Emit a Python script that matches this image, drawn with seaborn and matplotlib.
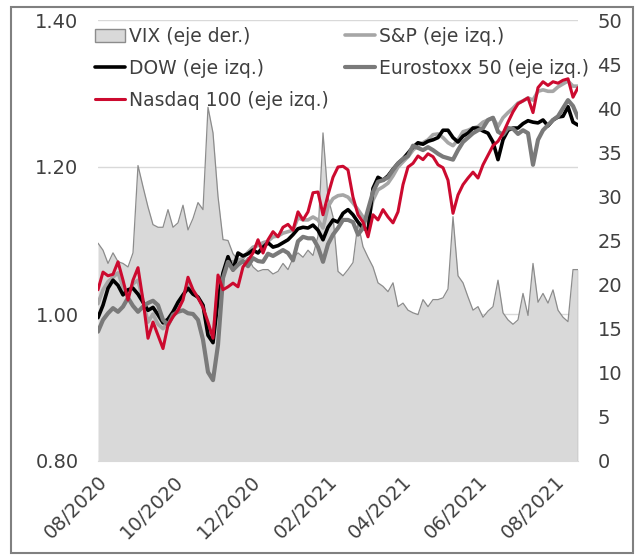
import pandas as pd
import matplotlib.pyplot as plt
import matplotlib.dates as mdates
from matplotlib.patches import Patch, Rectangle
import seaborn as sns

# Fechas (cada 4 días, 01/08/2020 - 20/08/2021)
dates = pd.date_range("2020-08-01", periods=97, freq="4D")

vix = [24.7, 23.9, 22.4, 23.6, 22.6, 22.4, 22.0, 23.6, 33.5, 31.1,
       28.8, 26.8, 26.5, 26.5, 28.5, 26.5, 27.0, 29.0, 26.2, 27.5,
       29.3, 28.5, 40.1, 37.2, 30.0, 25.1, 25.0, 23.5, 22.8, 22.4,
       23.1, 22.0, 21.5, 21.7, 21.7, 21.2, 21.5, 22.4, 21.7, 23.0,
       23.6, 23.1, 23.9, 23.3, 25.5, 37.2, 29.9, 27.7, 21.5, 21.0,
       21.7, 22.5, 27.0, 24.3, 23.1, 22.0, 20.2, 19.8, 19.2, 20.2,
       17.5, 17.9, 17.1, 16.8, 16.6, 18.3, 17.5, 18.3, 18.3, 18.5,
       19.5, 27.7, 21.0, 20.2, 18.6, 17.1, 17.5, 16.3, 17.0, 17.5,
       20.5, 16.8, 16.0, 15.5, 16.0, 19.0, 16.5, 22.4, 18.0, 19.0,
       17.9, 19.4, 17.1, 16.3, 15.8, 21.7, 21.7]

sp = [1.014, 1.033, 1.044, 1.050, 1.056, 1.037, 1.026, 1.041, 1.046, 1.018,
      0.989, 1.000, 0.986, 0.980, 0.989, 1.000, 1.011, 1.023, 1.042, 1.030,
      1.023, 1.011, 0.978, 0.967, 1.035, 1.053, 1.071, 1.071, 1.073, 1.076,
      1.084, 1.091, 1.093, 1.097, 1.099, 1.105, 1.106, 1.110, 1.112, 1.114,
      1.131, 1.128, 1.128, 1.132, 1.128, 1.117, 1.146, 1.157, 1.161, 1.162,
      1.159, 1.151, 1.142, 1.132, 1.128, 1.155, 1.169, 1.173, 1.178, 1.188,
      1.200, 1.207, 1.214, 1.223, 1.229, 1.233, 1.237, 1.244, 1.245, 1.240,
      1.233, 1.229, 1.237, 1.248, 1.250, 1.253, 1.255, 1.261, 1.264, 1.267,
      1.255, 1.267, 1.274, 1.280, 1.287, 1.290, 1.294, 1.291, 1.303, 1.305,
      1.303, 1.303, 1.309, 1.313, 1.317, 1.310, 1.310]

dow = [0.995, 1.012, 1.035, 1.046, 1.039, 1.026, 1.033, 1.035, 1.027, 1.016,
       1.005, 1.009, 0.999, 0.988, 0.993, 1.003, 1.016, 1.026, 1.035, 1.027,
       1.023, 1.012, 0.971, 0.961, 1.019, 1.056, 1.078, 1.060, 1.083, 1.079,
       1.082, 1.087, 1.083, 1.091, 1.097, 1.091, 1.093, 1.097, 1.101, 1.108,
       1.116, 1.118, 1.117, 1.121, 1.114, 1.101, 1.118, 1.128, 1.125, 1.137,
       1.142, 1.135, 1.125, 1.117, 1.114, 1.171, 1.186, 1.182, 1.188, 1.197,
       1.205, 1.211, 1.219, 1.227, 1.233, 1.231, 1.235, 1.237, 1.240, 1.250,
       1.250, 1.240, 1.234, 1.242, 1.246, 1.253, 1.253, 1.249, 1.246, 1.234,
       1.210, 1.237, 1.250, 1.253, 1.253, 1.259, 1.263, 1.261, 1.260, 1.264,
       1.256, 1.264, 1.268, 1.269, 1.282, 1.261, 1.257]

stoxx = [0.976, 0.992, 1.001, 1.008, 1.003, 1.010, 1.022, 1.011, 1.003, 1.010,
         1.015, 1.018, 1.012, 0.992, 0.985, 0.999, 1.003, 1.005, 1.001, 1.000,
         0.992, 0.965, 0.921, 0.910, 0.958, 1.049, 1.071, 1.060, 1.067, 1.072,
         1.065, 1.076, 1.072, 1.071, 1.082, 1.079, 1.083, 1.087, 1.083, 1.073,
         1.099, 1.105, 1.103, 1.103, 1.091, 1.071, 1.095, 1.108, 1.117, 1.128,
         1.128, 1.125, 1.108, 1.117, 1.142, 1.166, 1.180, 1.182, 1.186, 1.196,
         1.205, 1.211, 1.215, 1.229, 1.226, 1.223, 1.227, 1.223, 1.218, 1.214,
         1.212, 1.210, 1.223, 1.234, 1.240, 1.246, 1.250, 1.253, 1.264, 1.267,
         1.248, 1.244, 1.253, 1.252, 1.245, 1.250, 1.246, 1.203, 1.237, 1.250,
         1.257, 1.264, 1.269, 1.280, 1.291, 1.283, 1.267]

nasdaq = [1.033, 1.057, 1.052, 1.054, 1.071, 1.046, 1.019, 1.046, 1.063, 1.019,
          0.967, 0.989, 0.971, 0.953, 0.985, 0.996, 1.005, 1.019, 1.050, 1.033,
          1.022, 1.009, 0.989, 0.967, 1.053, 1.033, 1.037, 1.042, 1.037, 1.064,
          1.073, 1.083, 1.101, 1.083, 1.101, 1.112, 1.105, 1.118, 1.122, 1.114,
          1.139, 1.128, 1.139, 1.165, 1.166, 1.135, 1.162, 1.186, 1.200, 1.201,
          1.196, 1.159, 1.135, 1.125, 1.105, 1.135, 1.128, 1.142, 1.132, 1.124,
          1.139, 1.176, 1.200, 1.205, 1.215, 1.210, 1.218, 1.214, 1.203, 1.199,
          1.182, 1.137, 1.162, 1.176, 1.185, 1.193, 1.185, 1.203, 1.216, 1.229,
          1.235, 1.246, 1.261, 1.275, 1.286, 1.290, 1.294, 1.274, 1.308, 1.316,
          1.311, 1.316, 1.314, 1.318, 1.320, 1.295, 1.308]

tick_dates = pd.to_datetime(["2020-08-01", "2020-10-01", "2020-12-01", "2021-02-01",
                             "2021-04-01", "2021-06-01", "2021-08-01"])
left_ticks = [0.80, 1.00, 1.20, 1.40]
right_ticks = list(range(0, 55, 5))

sns.set_style("white")
plt.rcParams["font.family"] = ["DejaVu Sans"]
txt = "#404040"

fig = plt.figure(figsize=(6.39, 5.57), dpi=100)
ax = fig.add_axes([98 / 639, 96 / 557, 480 / 639, 441 / 557])
ax_v = ax.twinx()
ax.set_zorder(ax_v.get_zorder() + 1)
ax.patch.set_visible(False)

# VIX (eje derecho), área
for v in left_ticks:
    ax_v.axhline((v - 0.8) / 0.6 * 50, color="#d9d9d9", lw=1, zorder=0)
ax_v.fill_between(dates, vix, 0, color="#d9d9d9", lw=0, zorder=1)
sns.lineplot(x=dates, y=vix, ax=ax_v, color="#8c8c8c", lw=0.9, zorder=2)
ax_v.vlines(dates[-1], 0, vix[-1], color="#8c8c8c", lw=0.9)

# índices (eje izquierdo)
sns.lineplot(x=dates, y=sp, ax=ax, color="#a6a6a6", lw=2.6, label="S&P (eje izq.)")
sns.lineplot(x=dates, y=dow, ax=ax, color="black", lw=2.6, label="DOW (eje izq.)")
sns.lineplot(x=dates, y=stoxx, ax=ax, color="#7a7a7a", lw=3.0, label="Eurostoxx 50 (eje izq.)")
sns.lineplot(x=dates, y=nasdaq, ax=ax, color="#cc0a2f", lw=2.2, label="Nasdaq 100 (eje izq.)")
handles, labels = ax.get_legend_handles_labels()
ax.get_legend().remove()

ax.set_xlim(dates[0], dates[-1])
ax.set_ylim(0.8, 1.4)
ax_v.set_ylim(0, 50)
ax.set_yticks(left_ticks)
ax.set_yticklabels([f"{t:.2f}" for t in left_ticks])
ax_v.set_yticks(right_ticks)
ax.set_xticks(tick_dates)
ax.xaxis.set_major_formatter(mdates.DateFormatter("%m/%Y"))
ax.set_xlabel("")
ax.set_ylabel("")
ax_v.set_ylabel("")

for a in (ax, ax_v):
    for s in a.spines.values():
        s.set_visible(False)
ax.spines["bottom"].set_visible(True)
ax.spines["bottom"].set_color("#d9d9d9")

ax.tick_params(axis="y", length=0, pad=14, labelsize=14, labelcolor=txt)
ax_v.tick_params(axis="y", length=0, pad=14, labelsize=14, labelcolor=txt)
ax.tick_params(axis="x", length=6, color="#d9d9d9", labelsize=14, labelcolor=txt, pad=2)
for lab in ax.get_xticklabels():
    lab.set_rotation(45)
    lab.set_ha("right")
    lab.set_rotation_mode("anchor")

vix_h = Patch(facecolor="#d9d9d9", edgecolor="#8c8c8c", label="VIX (eje der.)")
order = [vix_h, handles[1], handles[3], handles[0], handles[2]]
names = ["VIX (eje der.)", labels[1], labels[3], labels[0], labels[2]]
fig.legend(order, names, ncol=2, loc="upper left", bbox_to_anchor=(95 / 639, 1 - 27 / 557),
           frameon=False, fontsize=13.5, labelcolor=txt, handlelength=1.6,
           handletextpad=0.2, columnspacing=0.9, labelspacing=0.68,
           borderaxespad=0, borderpad=0)

fig.patches.append(Rectangle((11 / 639, 4 / 557), 622 / 639, 546 / 557,
                             transform=fig.transFigure, fill=False,
                             edgecolor="#808080", lw=1.5))

fig.savefig("out.png", dpi=100)
